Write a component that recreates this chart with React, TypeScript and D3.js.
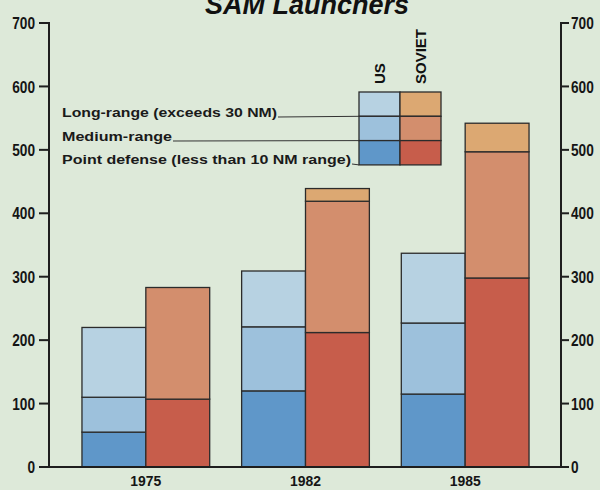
import React from "react";
import * as d3 from "d3";

const years = ["1975", "1982", "1985"];
const countries = ["US", "SOVIET"];
const components = ["point", "medium", "long"];
const legendLabels = [
  "Long-range (exceeds 30 NM)",
  "Medium-range",
  "Point defense (less than 10 NM range)",
];
const usPoint = [55, 120, 115];
const usMedium = [55, 101, 112];
const usLong = [110, 88, 110];
const sovPoint = [107, 212, 298];
const sovMedium = [176, 207, 199];
const sovLong = [0, 20, 45];
const yTicks = [0, 100, 200, 300, 400, 500, 600, 700];

const colors: Record<string, Record<string, string>> = {
  US: { point: "#5f97c9", medium: "#9dc1dc", long: "#b7d2e2" },
  SOVIET: { point: "#c75d4b", medium: "#d38e6d", long: "#dca872" },
};

const W = 600;
const H = 490;
const LEFT = 49;
const RIGHT = 561;
const sans = "'Liberation Sans', Arial, Helvetica, sans-serif";

export default function App() {
  const y = d3.scaleLinear().domain([0, 700]).range([467, 23]);
  const x0 = d3.scaleBand<string>().domain(years).range([66, 545]).paddingInner(0.2).paddingOuter(0.1);
  const x1 = d3.scaleBand<string>().domain(countries).range([0, x0.bandwidth()]);

  const rows = years.map((yr, i) => ({
    year: yr,
    US: { point: usPoint[i], medium: usMedium[i], long: usLong[i] },
    SOVIET: { point: sovPoint[i], medium: sovMedium[i], long: sovLong[i] },
  }));

  const stack = d3.stack<any, string>().keys(components);

  const bars: React.ReactNode[] = [];
  countries.forEach((c) => {
    const series = stack(rows.map((r) => (r as any)[c]));
    series.forEach((s) => {
      s.forEach((seg, i) => {
        const h = y(seg[0]) - y(seg[1]);
        if (h <= 0) return;
        bars.push(
          <rect
            key={`${c}-${s.key}-${i}`}
            x={(x0(years[i]) as number) + (x1(c) as number)}
            y={y(seg[1])}
            width={x1.bandwidth()}
            height={h}
            fill={colors[c][s.key]}
            stroke="#2b2b2b"
            strokeWidth={1.3}
          />
        );
      });
    });
  });

  // legend
  const lgX = 359;
  const lgY = 92;
  const cellW = 41;
  const cellH = 24.3;
  const legendOrder = ["long", "medium", "point"];
  const labelWidths = [215, 110, 289];
  const labelBaselines = [117, 141, 164];
  const digitW = 7.6;

  return (
    <svg width={W} height={H} style={{ position: "absolute", left: 0, top: 0 }}>
      <rect x={0} y={0} width={W} height={H} fill="#dde9d9" />
      <text
        x={307}
        y={14}
        textAnchor="middle"
        fontFamily={sans}
        fontWeight="bold"
        fontStyle="italic"
        fontSize={27}
        fill="#111"
      >
        SAM Launchers
      </text>

      {bars}

      {/* baseline */}
      <line x1={40} x2={RIGHT} y1={y(0)} y2={y(0)} stroke="#1e1e1e" strokeWidth={2} />
      {/* left axis */}
      <line x1={LEFT} x2={LEFT} y1={y(700) - 1} y2={y(0)} stroke="#1e1e1e" strokeWidth={2} />
      {yTicks.map((t) => (
        <g key={`l${t}`}>
          <line x1={39} x2={LEFT} y1={y(t)} y2={y(t)} stroke="#1e1e1e" strokeWidth={2} />
          <text
            x={35}
            y={y(t)}
            dy="0.36em"
            textAnchor="end"
            fontFamily={sans}
            fontWeight="bold"
            fontSize={17}
            textLength={String(t).length * digitW}
            lengthAdjust="spacingAndGlyphs"
            fill="#151515"
          >
            {t}
          </text>
        </g>
      ))}
      {/* right axis */}
      <line x1={RIGHT} x2={RIGHT} y1={y(700) - 1} y2={y(0)} stroke="#1e1e1e" strokeWidth={2} />
      {yTicks.map((t) => (
        <g key={`r${t}`}>
          <line x1={RIGHT} x2={569} y1={y(t)} y2={y(t)} stroke="#1e1e1e" strokeWidth={2} />
          <text
            x={571}
            y={y(t)}
            dy="0.36em"
            textAnchor="start"
            fontFamily={sans}
            fontWeight="bold"
            fontSize={17}
            textLength={String(t).length * digitW}
            lengthAdjust="spacingAndGlyphs"
            fill="#151515"
          >
            {t}
          </text>
        </g>
      ))}

      {/* year labels */}
      {years.map((yr) => (
        <text
          key={yr}
          x={(x0(yr) as number) + x0.bandwidth() / 2}
          y={486}
          textAnchor="middle"
          fontFamily={sans}
          fontWeight="bold"
          fontSize={15}
          textLength={31}
          lengthAdjust="spacingAndGlyphs"
          fill="#151515"
        >
          {yr}
        </text>
      ))}

      {/* legend */}
      {countries.map((c, ci) =>
        legendOrder.map((k, ri) => (
          <rect
            key={`lg-${c}-${k}`}
            x={lgX + ci * cellW}
            y={lgY + ri * cellH}
            width={cellW}
            height={cellH}
            fill={colors[c][k]}
            stroke="#2b2b2b"
            strokeWidth={1.3}
          />
        ))
      )}
      {countries.map((c, ci) => (
        <text
          key={`lgh-${c}`}
          transform={`translate(${lgX + ci * cellW + cellW / 2 + 5},${lgY - 8}) rotate(-90)`}
          textAnchor="start"
          fontFamily={sans}
          fontWeight="bold"
          fontSize={15}
          fill="#111"
        >
          {c}
        </text>
      ))}
      {legendLabels.map((lab, i) => (
        <g key={lab}>
          <text
            x={62}
            y={labelBaselines[i]}
            fontFamily={sans}
            fontWeight="bold"
            fontSize={13.5}
            textLength={labelWidths[i]}
            lengthAdjust="spacingAndGlyphs"
            fill="#1a1a1a"
          >
            {lab}
          </text>
          <line
            x1={62 + labelWidths[i] + 1}
            x2={lgX}
            y1={labelBaselines[i]}
            y2={lgY + (i + 1) * cellH}
            stroke="#333"
            strokeWidth={1}
          />
        </g>
      ))}
    </svg>
  );
}
